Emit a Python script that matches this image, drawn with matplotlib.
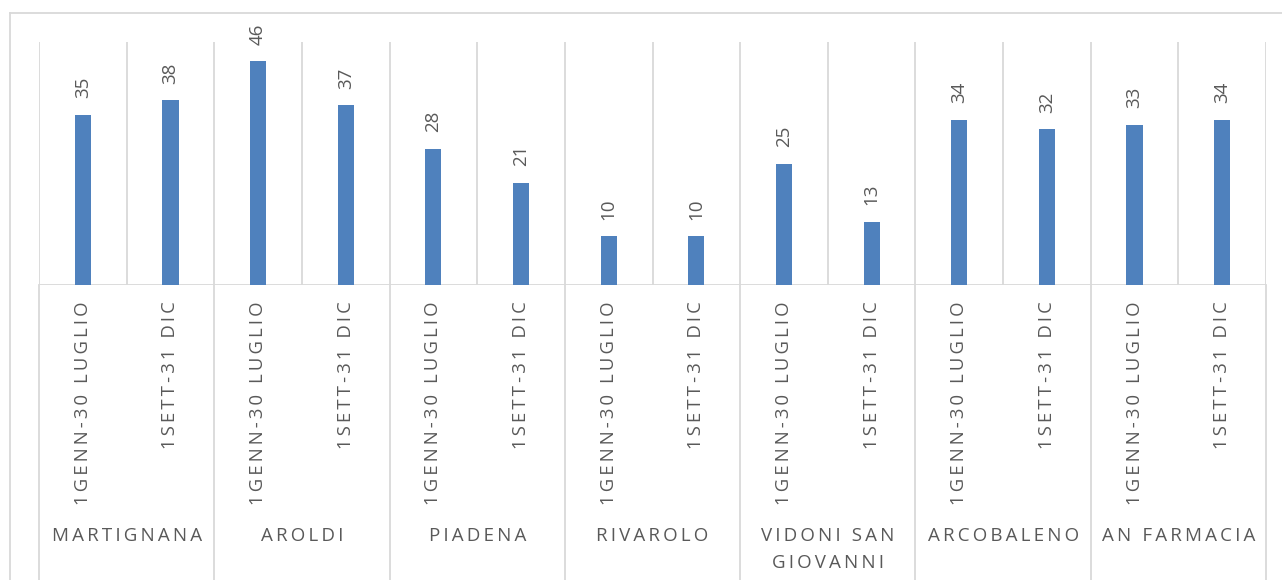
import matplotlib.pyplot as plt
from matplotlib.lines import Line2D

# dati
gruppi = ["MARTIGNANA", "AROLDI", "PIADENA", "RIVAROLO",
          "VIDONI SAN\nGIOVANNI", "ARCOBALENO", "AN FARMACIA"]
periodi = ["1GENN-30 LUGLIO", "1SETT-31 DIC"]
valori = [35, 38, 46, 37, 28, 21, 10, 10, 25, 13, 34, 32, 33, 34]

BLU = "#4F81BD"
GRIGIO = "#D9D9D9"
TESTO = "#595959"
plt.rcParams['font.family'] = ['Open Sans', 'DejaVu Sans']


def spaziato(s, sep="\u2009"):
    # Excel usa la spaziatura tra i caratteri, qui la imitiamo con thin space
    return sep.join(s)


fig = plt.figure(figsize=(12.82, 5.8), dpi=100)
ax = fig.add_axes([39 / 1282, 295 / 580, 1227 / 1282, 243 / 580])

n = len(valori)
x = list(range(n))
ax.bar(x, valori, width=0.185, color=BLU, zorder=3)

for xi, v in zip(x, valori):
    ax.annotate(str(v), (xi, v), xytext=(0, 12), textcoords="offset points",
                rotation=90, ha="center", va="bottom", fontsize=13.5, color=TESTO)

ax.set_xlim(-0.5, n - 0.5)
ax.set_ylim(0, 50)
ax.set_xticks([])
ax.set_yticks([])
for s in ax.spines.values():
    s.set_visible(False)

# separatori verticali nell'area del grafico
for k in range(n + 1):
    ax.plot([k - 0.5, k - 0.5], [0, 50], color=GRIGIO, lw=1.3, zorder=1)
ax.axhline(0, color=GRIGIO, lw=1.3, zorder=2)

# separatori dei gruppi sotto l'asse
tr = ax.get_xaxis_transform()
for g in range(len(gruppi) + 1):
    xs = g * len(periodi) - 0.5
    ax.add_line(Line2D([xs, xs], [0, -1.3], transform=tr, color=GRIGIO,
                       lw=1.3, clip_on=False))

# etichette dei periodi
for i in range(n):
    ax.text(i, -0.068, spaziato(periodi[i % 2]), transform=tr, rotation=90,
            ha="center", va="top", fontsize=13.3, color=TESTO)

# etichette dei gruppi
for g, nome in enumerate(gruppi):
    xc = g * len(periodi) + 0.5
    ax.text(xc, -0.995, spaziato(nome.replace("\n", "|")).replace("\u2009|\u2009", "\n"),
            transform=tr, ha="center", va="top", fontsize=13.5, color=TESTO,
            linespacing=1.65)

# bordo esterno del grafico
fig.add_artist(Line2D([9.5 / 1282, 9.5 / 1282], [0, 1 - 13 / 580],
                      transform=fig.transFigure, color=GRIGIO, lw=1.3))
fig.add_artist(Line2D([9.5 / 1282, 1], [1 - 13 / 580, 1 - 13 / 580],
                      transform=fig.transFigure, color=GRIGIO, lw=1.3))

fig.savefig("out.png", dpi=100)
